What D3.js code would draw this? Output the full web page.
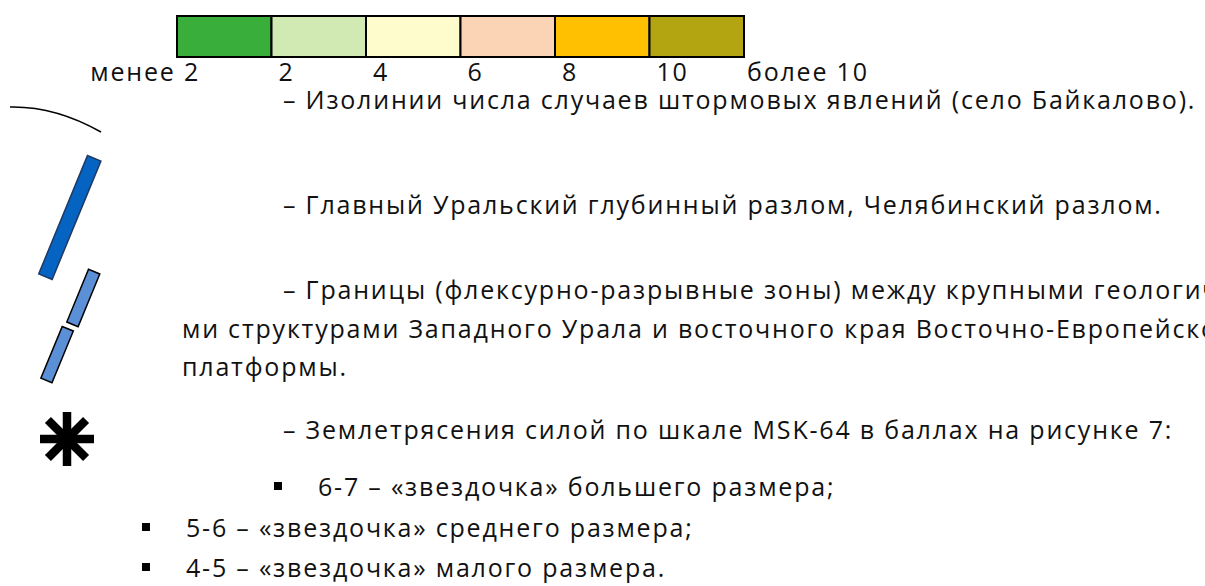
<!DOCTYPE html>
<meta charset="utf-8">
<style>
  body { margin: 0; background: #fff; overflow: hidden; }
  text { font-family: "Open Sans", "Noto Sans", sans-serif; font-size: 25px; letter-spacing: 1.8px; fill: #111; }
</style>
<body>
<script src="https://cdnjs.cloudflare.com/ajax/libs/d3/7.8.5/d3.min.js"></script>
<script>

    var width = 1205,
        height = 586;

    // шкала числа штормовых явлений
    var binLabels = ["менее 2", "2", "4", "6", "8", "10", "более 10"];
    var binColors = ["#3aae3a", "#d1e9b3", "#fefccc", "#fad4b4", "#fec000", "#b3a512"];

    // строки пояснений
    var descLines = [
        "– Изолинии числа случаев штормовых явлений (село Байкалово).",
        "– Главный Уральский глубинный разлом, Челябинский разлом.",
        "– Границы (флексурно-разрывные зоны) между крупными геологически-",
        "ми структурами Западного Урала и восточного края Восточно-Европейской",
        "платформы.",
        "– Землетрясения силой по шкале MSK-64 в баллах на рисунке 7:"
    ];
    var bulletLines = [
        "6-7 – «звездочка» большего размера;",
        "5-6 – «звездочка» среднего размера;",
        "4-5 – «звездочка» малого размера."
    ];

    var svg = d3.select("body").append("svg")
            .attr("width", width)
            .attr("height", height);

    //цветная шкала
    var x = d3.scaleBand()
            .domain(d3.range(binColors.length))
            .range([177, 744])
            .paddingInner(0);

    svg.selectAll("rect.bin")
            .data(binColors)
            .enter().append("rect")
            .attr("class", "bin")
            .attr("x", function(d, i) { return x(i); })
            .attr("y", 16)
            .attr("width", x.bandwidth())
            .attr("height", 41)
            .attr("fill", function(d) { return d; })
            .attr("stroke", "#000")
            .attr("stroke-width", 2);

    svg.selectAll("text.bin")
            .data(binLabels)
            .enter().append("text")
            .attr("class", "bin")
            .attr("x", function(d, i) {
                var b = 177 + i * x.bandwidth();
                if (i === 0) return b + 23;
                if (i === binLabels.length - 1) return b + 3;
                return b + 7;
            })
            .attr("y", 81)
            .attr("text-anchor", function(d, i) { return i === 0 ? "end" : "start"; })
            .text(function(d) { return d; });

    //изолиния
    svg.append("path")
            .attr("d", "M10,107 Q55,106 101,132")
            .attr("fill", "none")
            .attr("stroke", "#000")
            .attr("stroke-width", 1.5);

    //разломы
    var faults = [
        {cx: 69.8, cy: 217.5, len: 128, w: 14.5, fill: "#0563c1", stroke: "#1f3864"},
        {cx: 83.3, cy: 298, len: 57, w: 12.2, fill: "#5b8fd6", stroke: "#000"},
        {cx: 57.1, cy: 354.6, len: 56, w: 12, fill: "#5b8fd6", stroke: "#000"}
    ];
    svg.selectAll("rect.fault")
            .data(faults)
            .enter().append("rect")
            .attr("class", "fault")
            .attr("x", function(d) { return -d.w / 2; })
            .attr("y", function(d) { return -d.len / 2; })
            .attr("width", function(d) { return d.w; })
            .attr("height", function(d) { return d.len; })
            .attr("transform", function(d) { return "translate(" + d.cx + "," + d.cy + ") rotate(22.4)"; })
            .attr("fill", function(d) { return d.fill; })
            .attr("stroke", function(d) { return d.stroke; })
            .attr("stroke-width", 1.5);

    //звездочка
    var star = svg.append("g").attr("transform", "translate(67,439)");
    star.selectAll("line")
            .data(d3.range(4))
            .enter().append("line")
            .attr("x1", 0).attr("y1", -27)
            .attr("x2", 0).attr("y2", 27)
            .attr("transform", function(d) { return "rotate(" + d * 45 + ")"; })
            .attr("stroke", "#000")
            .attr("stroke-width", 8.5);

    //текст
    var descPos = [[283, 109], [283, 214], [283, 299], [182, 338], [182, 376], [283, 439]];
    svg.selectAll("text.desc")
            .data(descLines)
            .enter().append("text")
            .attr("class", "desc")
            .attr("x", function(d, i) { return descPos[i][0]; })
            .attr("y", function(d, i) { return descPos[i][1]; })
            .text(function(d) { return d; });

    var bulletPos = [[274, 318, 496], [142, 186, 537], [142, 186, 577]];
    var bl = svg.selectAll("g.bullet")
            .data(bulletLines)
            .enter().append("g")
            .attr("class", "bullet");
    bl.append("rect")
            .attr("x", function(d, i) { return bulletPos[i][0]; })
            .attr("y", function(d, i) { return bulletPos[i][2] - 14; })
            .attr("width", 8)
            .attr("height", 8)
            .attr("fill", "#000");
    bl.append("text")
            .attr("x", function(d, i) { return bulletPos[i][1]; })
            .attr("y", function(d, i) { return bulletPos[i][2]; })
            .text(function(d) { return d; });

</script>
